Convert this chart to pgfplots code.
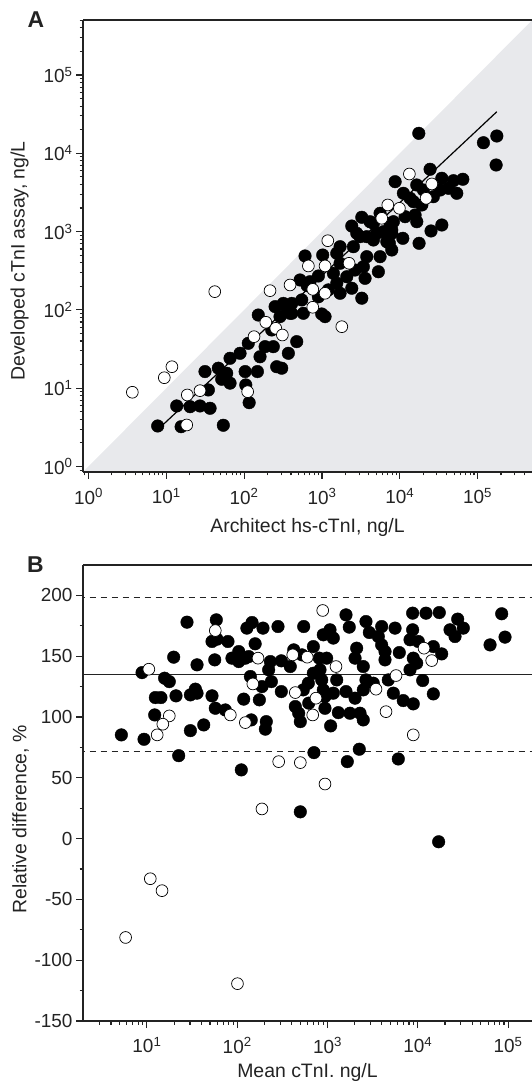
\documentclass[border=0pt]{standalone}
\usepackage{pgfplots}
\pgfplotsset{compat=1.18}
\usepackage{pgfplotstable}
\usepackage{fontspec}
\setmainfont{Liberation Sans}
\definecolor{grayfill}{RGB}{232,233,236}
\definecolor{axcol}{RGB}{35,35,35}

\pgfplotstableread{
x y
7.75 3.29
15.5 3.22
54 3.36
13.6 5.93
20.2 5.8
27.1 5.93
36.5 5.54
34.7 9.5
31.4 16.3
46.6 18
59.7 15.5
51.5 13
65.9 11.6
103 16.3
148 16.3
105 11
116 6.53
65.9 24.1
88.6 27.9
113 37.4
152 86
160 25.2
186 33.9
237 33.9
262 18.8
304 18
370 27.9
226 55.4
319 116
409 90.5
474 39.3
606 488
1023 502
2415 1178
3250 1523
2800 951
3765 861
3090 861
4580 781
6810 743
7890 582
5580 478
5310 307
3250 141
1549 528
1710 394
1402 293
2083 265
2663 323
3404 356
3580 253
1549 219
1208 180
1710 163
2415 189
899 271
703 229
523 241
899 147
1096 82
993 88.7
550 134
409 121
319 121
577 90.5
389 90.5
289 82
250 110
645 204
5580 1713
4580 1276
8280 1337
7890 951
6150 997
17550 18000
118800 13650
176600 16630
173000 7090
24500 6250
8710 4340
34700 4800
48900 4470
64600 4660
54000 3085
42200 3573
34700 1214
25200 1018
17700 709
16540 1337
15730 1629
10930 821
7350 709
7890 1048
11700 1549
14960 2410
19190 2188
20100 3400
13560 2663
11120 3085
16540 3940
33000 3400
27000 2790
4150 1337
5060 951
7500 1276
1710 641
2535 641
3765 478
}\Afilled

\pgfplotstableread{
x y
3.66 8.87
9.42 13.6
11.8 18.8
18.6 8.19
27.1 9.3
18.3 3.39
111 9.02
134 45.5
190 69.5
255 58.2
310 47.8
41.9 171
215 176
389 208
1188 765
669 364
1096 364
2230 394
762 183
1096 163
762 108
1798 61
7010 2188
5870 1479
13280 5440
25800 4060
21800 2663
9890 1985
}\Aopen

\pgfplotstableread{
x y
5.21 85.3
9.29 81.7
22.5 68.2
12.2 101.7
12.4 116
14.3 116
21 117.4
30.3 118.2
35.9 119.6
34.4 122.9
52.6 117.4
57.2 107.2
73.8 105.8
42.6 93.5
30.3 88.8
8.83 136.5
15.7 131.9
17.7 129.1
19.8 149.2
27.8 178
35.9 142.9
58.7 179.9
52.6 162.1
59.7 164
79 162.1
56.4 147
87.5 148.4
104 153.8
104 145.6
123 148.4
134 149.7
128 173.1
146 177.7
193 173.1
158 160.2
283 174.4
233 145.6
223 138.8
308 146.2
387 141.5
140 133.3
188 125
239 129.1
308 120.9
118 114.7
176 114.1
143 97.6
210 96.2
205 90
111 56.5
500 22
545 174.4
423 155.2
522 151.1
440 108.6
480 103.1
500 96.2
620 111.4
1603 184
2667 178.5
1742 173.9
2904 169.5
3981 174.4
5598 173.1
8770 185.4
12330 185.4
17300 185.9
27670 180.5
22750 171.7
25830 166.2
31930 173.1
84950 184.9
92470 165.7
63100 159.3
8770 171.7
8200 163.5
10140 162.1
14860 157.9
18400 151.9
8910 148.4
9720 144.3
8200 138.8
11330 130
14860 119
697 157.9
898 167.6
1066 171.7
1159 164.9
2104 156.6
2018 148.4
3656 166.2
3981 159.3
4335 153.8
4335 147
6240 153
811 148.4
979 148.4
826 138.8
863 130.5
898 122.3
938 116.8
697 136
613 127.8
539 122.3
1265 130.5
1159 119.6
938 107.2
1318 103.6
1084 92.7
1603 120.9
2018 115.5
2490 122.3
2490 141.5
2667 130.5
1774 103.1
2291 103.1
2490 97.6
3214 127.8
4710 130.5
5358 119.6
6902 113.5
8910 110.8
708 70.7
1656 63.3
2249 73.5
6081 65.5
17020 -2.6
}\Bfilled

\pgfplotstableread{
x y
10.5 139.3
17.7 100.9
15 94.1
13 85.3
57.2 171.1
83.9 101.7
123 95.4
149 127.2
170 148.4
288 63.3
500 62.5
188 24.4
412 151.1
440 120.1
885 187.6
597 149.2
1242 141.5
746 115.5
686 101.7
3444 122.9
5741 134.1
4446 104.4
8910 85.3
11720 156.6
14260 146.4
938 44.9
10.9 -33
14.7 -42.8
5.81 -81.3
100.7 -119.3
}\Bopen

\begin{document}
\begin{tikzpicture}
\path[use as bounding box] (0,0) rectangle (532bp,-1084bp);
\pgfplotsset{
  mystyle/.style={
    scale only axis, width=449bp,
    axis x line=box, axis y line=left,
    axis line style={-, line width=1.3bp, draw=axcol},
    every outer x axis line/.append style={-},
    every outer y axis line/.append style={-},
    tick align=outside, xtick pos=left, ytick pos=left,
    major tick length=7bp, minor tick length=3.5bp,
    every tick/.style={line width=1.1bp, draw=axcol},
    tick label style={font=\fontsize{19}{20}\selectfont, text=axcol},
    xticklabel style={yshift=-6bp},
    label style={font=\fontsize{19.5}{22}\selectfont, text=axcol},
    axis on top,
    clip=true,
  }
}
% Panel A
\begin{axis}[mystyle, height=452bp, at={(83bp,-472bp)}, anchor=south west,
  xmode=log, ymode=log, xmin=0.85, xmax=5e5, ymin=0.85, ymax=5.04e5,
  xtick={1,10,100,1000,10000,100000},
  xticklabels={10\textsuperscript{0},10\textsuperscript{1},10\textsuperscript{2},10\textsuperscript{3},10\textsuperscript{4},10\textsuperscript{5}},
  ytick={1,10,100,1000,10000,100000},
  yticklabels={10\textsuperscript{0},10\textsuperscript{1},10\textsuperscript{2},10\textsuperscript{3},10\textsuperscript{4},10\textsuperscript{5}},
  minor xtick={0.9,2,3,4,5,6,7,8,9,20,30,40,50,60,70,80,90,200,300,400,500,600,700,800,900,2000,3000,4000,5000,6000,7000,8000,9000,20000,30000,40000,50000,60000,70000,80000,90000,200000,300000,400000},
  minor ytick={0.9,2,3,4,5,6,7,8,9,20,30,40,50,60,70,80,90,200,300,400,500,600,700,800,900,2000,3000,4000,5000,6000,7000,8000,9000,20000,30000,40000,50000,60000,70000,80000,90000,200000,300000,400000,500000},
  xlabel={Architect hs-cTnI, ng/L},
  ylabel={Developed cTnI assay, ng/L},
  x label style={at={(axis description cs:0.5,-0.1235)}, anchor=center},
  y label style={at={(axis description cs:-0.1414,0.467)}, anchor=center},
]
\addplot[fill=grayfill, draw=none] coordinates {(0.1,0.1) (1e7,1e7) (1e7,0.1) (0.1,0.1)};
\addplot[only marks, mark=*, mark size=6.3bp, mark options={fill=black, draw=none}] table[x=x,y=y]{\Afilled};
\addplot[only marks, mark=*, mark size=5.9bp, mark options={fill=white, draw=black, line width=0.7bp}] table[x=x,y=y]{\Aopen};
\addplot[black, line width=1.2bp] coordinates {(8.6,3.25) (176600,33970)};
\end{axis}
\node[font=\bfseries\fontsize{23}{23}\selectfont, text=axcol] at (36bp,-19.5bp) {A};
% Panel B
\begin{axis}[mystyle, height=456bp, at={(83bp,-1021bp)}, anchor=south west,
  xmode=log, xmin=1.96, xmax=1.84e5, ymin=-150, ymax=225,
  xtick={10,100,1000,10000,100000},
  xticklabels={10\textsuperscript{1},10\textsuperscript{2},10\textsuperscript{3},10\textsuperscript{4},10\textsuperscript{5}},
  minor xtick={3,4,5,6,7,8,9,20,30,40,50,60,70,80,90,200,300,400,500,600,700,800,900,2000,3000,4000,5000,6000,7000,8000,9000,20000,30000,40000,50000,60000,70000,80000,90000},
  ytick={-150,-100,-50,0,50,100,150,200},
  yticklabels={-150,-100,-50,0,50,100,150,200},
  minor ytick={-125,-75,-25,25,75,125,175},
  xlabel={Mean cTnI. ng/L},
  ylabel={Relative difference, \%},
  x label style={at={(axis description cs:0.5,-0.1125)}, anchor=center},
  y label style={at={(axis description cs:-0.139,0.442)}, anchor=center},
]
\addplot[axcol, line width=1bp, dash pattern=on 6bp off 5bp] coordinates {(1,198.6) (1e6,198.6)};
\addplot[axcol, line width=1bp, dash pattern=on 6bp off 5bp] coordinates {(1,71.5) (1e6,71.5)};
\addplot[axcol, line width=1.2bp] coordinates {(1,135) (1e6,135)};
\addplot[only marks, mark=*, mark size=6.3bp, mark options={fill=black, draw=none}] table[x=x,y=y]{\Bfilled};
\addplot[only marks, mark=*, mark size=5.9bp, mark options={fill=white, draw=black, line width=0.7bp}] table[x=x,y=y]{\Bopen};
\end{axis}
\node[font=\bfseries\fontsize{23}{23}\selectfont, text=axcol] at (35.5bp,-564.5bp) {B};
\end{tikzpicture}
\end{document}
